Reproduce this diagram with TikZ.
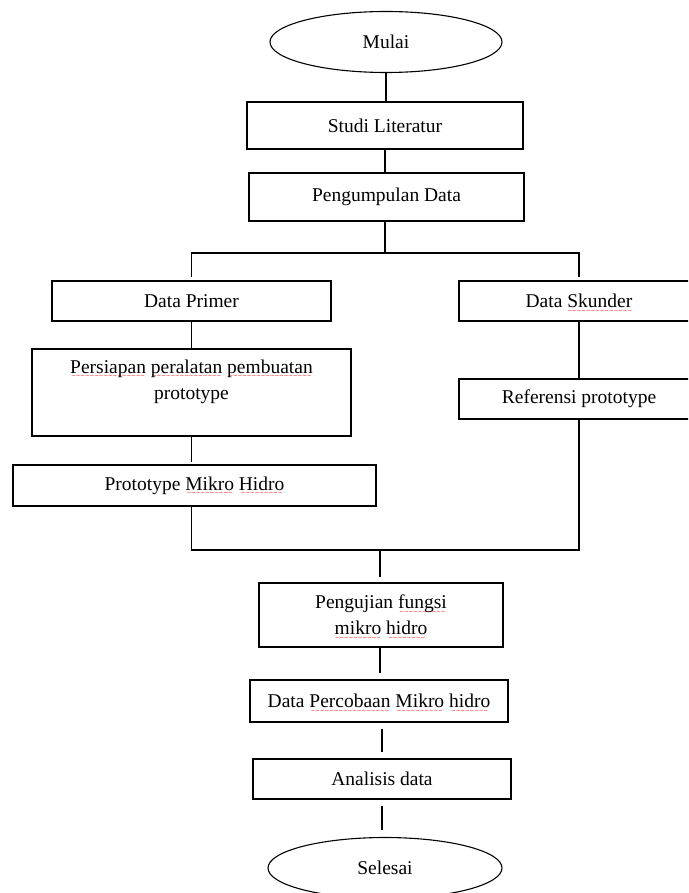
\documentclass[tikz,border=0pt]{standalone}
\usepackage{fontspec}
\setmainfont{Liberation Serif}
\newfontfamily\wavefont{DejaVu Sans}
\usetikzlibrary{shapes.geometric}
\newcommand\sqw[1]{\leavevmode\setbox0=\hbox{#1}%
  \rlap{\raisebox{-4.5pt}[0pt][0pt]{\color{red}\hbox to\wd0{\cleaders\hbox{\wavefont\fontsize{5.5}{5.5}\selectfont\char"223C}\hfil}}}\box0\relax}
\tikzset{
  every node/.style={font=\fontsize{19.5}{26}\selectfont},
  box/.style={draw, line width=1.1pt, rectangle, inner sep=2pt, align=center},
  term/.style={draw, line width=1.1pt, ellipse, inner sep=0pt},
  conn/.style={draw, line width=1.1pt},
}
\begin{document}
\begin{tikzpicture}[x=1pt,y=-1pt]
\useasboundingbox (0,0) rectangle (688,893);
\clip (0,0) rectangle (688,893);
\fill[white] (0,0) rectangle (688,893);
% nodes
\node[term, minimum width=232, minimum height=61] (mulai) at (386,42) {Mulai};
\node[box, minimum width=276, minimum height=47] (studi) at (385,125.5) {Studi Literatur};
\node[box, minimum width=275, minimum height=48] (kumpul) at (386.5,197) {Pengumpulan Data};
\node[box, minimum width=279, minimum height=40] (primer) at (191.5,301) {Data Primer};
\node[box, minimum width=240, minimum height=40] (skunder) at (579,301) {Data \sqw{Skunder}};
\node[box, minimum width=319, minimum height=87] (persiapan) at (191.5,392.5)
  {\sqw{Persiapan} \sqw{peralatan} \sqw{pembuatan}\\prototype\\\mbox{}};
\node[box, minimum width=240, minimum height=40] (referensi) at (579,399) {Referensi prototype};
\node[box, minimum width=363, minimum height=41] (proto) at (194.5,485.5) {Prototype \sqw{Mikro} \sqw{Hidro}};
\node[box, minimum width=244, minimum height=64] (uji) at (381,615) {Pengujian \sqw{fungsi}\\\sqw{mikro} \sqw{hidro}};
\node[box, minimum width=258, minimum height=42] (percobaan) at (379,701) {Data \sqw{Percobaan} \sqw{Mikro} \sqw{hidro}};
\node[box, minimum width=258, minimum height=40] (analisis) at (382,779) {Analisis data};
\node[term, minimum width=234, minimum height=61] (selesai) at (385,868) {Selesai};
% junction coordinates
\coordinate (split) at (385,253);
\coordinate (join) at (380,550);
% connectors
\draw[conn] (mulai.south) -- (mulai.south |- studi.north);
\draw[conn] (studi.south) -- (studi.south |- kumpul.north);
\draw[conn] (kumpul.south -| split) -- (split);
\draw[conn, shorten >=3pt] (split) -| (primer.north);
\draw[conn, shorten >=3pt] (split) -| (skunder.north);
\draw[conn] (primer.south) -- (persiapan.north -| primer.south);
\draw[conn, shorten >=2pt] (persiapan.south) -- (proto.north -| persiapan.south);
\draw[conn] (skunder.south) -- (referensi.north);
\draw[conn] (proto.south -| persiapan.south) |- (join);
\draw[conn] (referensi.south) |- (join);
\draw[conn, shorten >=5pt] (join) -- (join |- uji.north);
\draw[conn, shorten >=6pt] (uji.south -| join) -- (join |- percobaan.north);
\draw[conn, shorten <=6pt, shorten >=6pt] (percobaan.south -| analisis.south) -- (analisis.north);
\draw[conn, shorten <=6pt, shorten >=7pt] (analisis.south) -- (analisis.south |- selesai.north);
\end{tikzpicture}
\end{document}
